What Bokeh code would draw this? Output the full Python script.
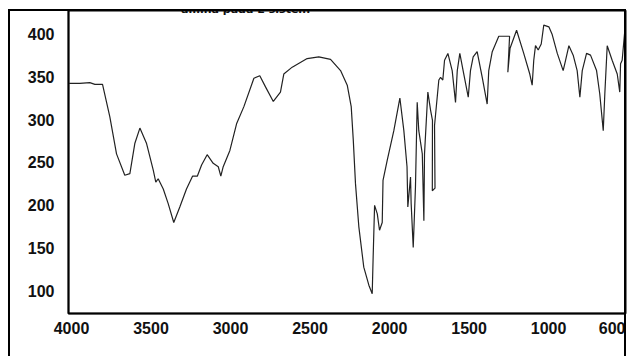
from bokeh.plotting import figure
from bokeh.models import Range1d, FixedTicker, Label, InlineStyleSheet
from bokeh.embed import file_html
from bokeh.resources import INLINE

# ---- data ----
wavenumber = [4015, 3948, 3885, 3853, 3805, 3759, 3717, 3665, 3633, 3602,
              3570, 3528, 3486, 3470, 3455, 3423, 3392, 3357, 3319, 3277,
              3239, 3209, 3182, 3147, 3109, 3077, 3061, 3046, 3004, 2962,
              2916, 2853, 2816, 2780, 2731, 2686, 2665, 2612, 2518, 2445,
              2371, 2308, 2266, 2241, 2228, 2214, 2193, 2162, 2130, 2109,
              2103, 2094, 2077, 2063, 2046, 2041, 2015, 1973, 1935, 1910,
              1890, 1885, 1868, 1864, 1851, 1837, 1826, 1816, 1794, 1784,
              1780, 1759, 1742, 1730, 1731, 1714, 1717, 1690, 1679, 1665,
              1654, 1633, 1606, 1585, 1574, 1558, 1533, 1505, 1491, 1474,
              1449, 1417, 1386, 1376, 1354, 1313, 1245, 1256, 1242, 1201,
              1156, 1118, 1103, 1093, 1082, 1065, 1046, 1030, 998, 977,
              945, 908, 893, 872, 845, 820, 803, 788, 761, 736,
              698, 678, 656, 646, 631, 600, 568, 552, 547, 537,
              522, 512]
transmittance = [342, 342, 343, 341, 341, 303, 260, 235, 237, 272,
                 290, 272, 241, 227, 231, 219, 202, 180, 198, 219,
                 234, 234, 247, 259, 249, 245, 234, 245, 264, 295,
                 315, 348, 351, 338, 321, 332, 353, 361, 371, 373,
                 370, 357, 340, 315, 276, 225, 175, 128, 107, 97,
                 140, 200, 190, 171, 180, 229, 252, 287, 325, 287,
                 245, 198, 233, 202, 151, 221, 320, 287, 260, 182,
                 260, 332, 311, 299, 217, 220, 293, 346, 349, 346,
                 369, 377, 357, 320, 357, 377, 353, 326, 357, 373,
                 379, 349, 318, 357, 379, 397, 397, 355, 383, 404,
                 377, 353, 340, 369, 386, 381, 388, 410, 408, 399,
                 377, 357, 369, 386, 375, 357, 326, 357, 377, 375,
                 357, 330, 287, 330, 386, 369, 353, 332, 365, 369,
                 400, 415]
x_ticks = [4000, 3500, 3000, 2500, 2000, 1500, 1000, 600]
y_ticks = [100, 150, 200, 250, 300, 350, 400]
title_text = "amina pada L-sistein"

# ---- layout ----
W, H = 629, 356
LEFT, RIGHT, TOP, BOTTOM = 68, 4, 10, 43
x_start, x_end = 4019, 516
y_start, y_end = 74, 427
fw = W - LEFT - RIGHT
fh = H - TOP - BOTTOM


def px_to_x(px):
    return x_start + (px - LEFT) * (x_end - x_start) / fw


def px_to_y(py):
    return y_end - (py - TOP) * (y_end - y_start) / fh


# outer frame of the scanned page (left, top, right edges), drawn by CSS
page_frame = InlineStyleSheet(css="""
:host::after {
  content: "";
  position: absolute;
  left: 8px; top: 9px; right: 3px; bottom: -20px;
  border-left: 2px solid #000;
  border-top: 2px solid #000;
  border-right: 2px solid #000;
  box-sizing: border-box;
  pointer-events: none;
}
""")

p = figure(width=W, height=H, output_backend="svg", toolbar_location=None,
           x_range=Range1d(x_start, x_end), y_range=Range1d(y_start, y_end),
           min_border_left=LEFT, min_border_right=RIGHT,
           min_border_top=TOP, min_border_bottom=BOTTOM,
           stylesheets=[page_frame])
p.background_fill_color = "white"
p.border_fill_color = "white"
p.grid.visible = False
p.outline_line_color = "black"
p.outline_line_width = 2
p.outline_line_alpha = 1

p.xaxis.ticker = FixedTicker(ticks=x_ticks)
p.yaxis.ticker = FixedTicker(ticks=y_ticks)
for ax in (p.xaxis, p.yaxis):
    ax.axis_line_color = "black"
    ax.axis_line_width = 1.5
    ax.major_tick_line_color = None
    ax.minor_tick_line_color = None
    ax.major_tick_out = 0
    ax.major_tick_in = 0
    ax.minor_tick_out = 0
    ax.major_label_text_font = "Liberation Sans"
    ax.major_label_text_font_style = "bold"
    ax.major_label_text_font_size = "16px"
    ax.major_label_text_color = "#111111"
p.xaxis.major_label_standoff = 8
p.yaxis.major_label_standoff = 14

p.line(wavenumber, transmittance, line_color="#222222", line_width=1.2)

title = Label(x=px_to_x(245), y=px_to_y(9), text=title_text,
              text_align="center", text_baseline="alphabetic",
              text_font="DejaVu Sans", text_font_style="bold",
              text_font_size="11px", text_color="#111111")
p.add_layout(title)

open("out.html", "w").write(file_html(p, INLINE))
